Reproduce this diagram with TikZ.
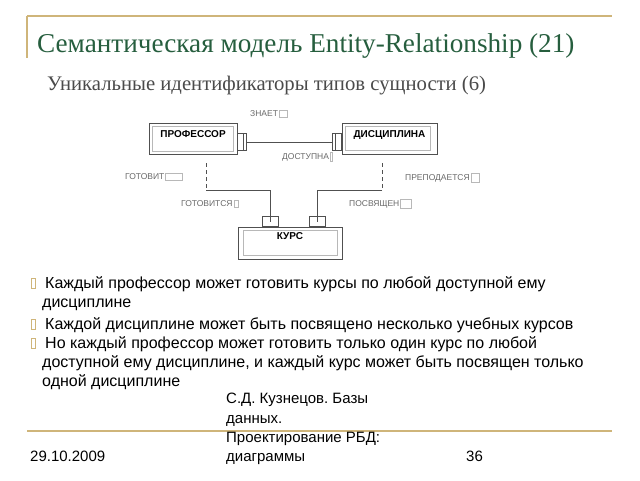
\documentclass[tikz,border=0pt]{standalone}
\usepackage{fontspec}
\setmainfont{Liberation Sans}
\newfontfamily\titlefont{Liberation Serif}
\usepackage{tikz}
\usetikzlibrary{calc}
\usetikzlibrary{positioning}

\definecolor{TitleGreen}{HTML}{265E3E}
\definecolor{LineGold}{HTML}{CFB57A}
\definecolor{SubGrey}{HTML}{4A4A4A}
\definecolor{BoxGrey}{HTML}{505050}
\definecolor{PaleGrey}{HTML}{B8B8B8}
\definecolor{TagGrey}{HTML}{6A6A6A}
\frenchspacing

\begin{document}
\begin{tikzpicture}
  [
    x = 1pt, y = -1pt,
    entity/.style = {draw=BoxGrey, rectangle, inner xsep=0pt, inner ysep=0pt,
                     text height=14pt, text depth=17pt,
                     font=\bfseries\fontsize{10}{12}\selectfont},
    inset/.style = {draw=PaleGrey, line width=0.5pt},
    port/.style = {draw=BoxGrey, rectangle, inner sep=0pt,
                   minimum width=9pt, minimum height=17pt},
    kport/.style = {port, minimum width=16pt, minimum height=10pt},
    link/.style = {draw=BoxGrey, line width=0.6pt},
    tag/.style = {text=TagGrey, font=\fontsize{8.5}{10}\selectfont,
                  inner xsep=1pt, inner ysep=0.3pt, anchor=west},
    tagframe/.style = {draw=PaleGrey, line width=0.5pt},
    bullet/.style = {draw=LineGold, rectangle, inner sep=0pt,
                     minimum width=4pt, minimum height=10pt},
    point/.style = {font=\fontsize{16}{19}\selectfont, text=black,
                    inner sep=0pt, anchor=base west},
    foot/.style = {font=\fontsize{15}{18}\selectfont, text=black,
                   inner sep=0pt, anchor=base west},
  ]
  \useasboundingbox[fill=white] (0,0) rectangle (640,480);

  % header
  \draw[LineGold, line width=1.2pt] (27,16) -- (612,16);
  \draw[LineGold, line width=1.2pt] (27,16) -- (27,58);
  \node[anchor=base west, inner sep=0pt, text=TitleGreen,
        font=\titlefont\fontsize{27.2}{31}\selectfont] (title) at (37,52)
    {Семантическая модель Entity-Relationship (21)};
  \node[anchor=base west, inner sep=0pt, text=SubGrey,
        font=\titlefont\fontsize{20.7}{24}\selectfont] (subtitle) at (47,90)
    {Уникальные идентификаторы типов сущности (6)};

  % entities
  \node[entity, minimum width=88pt] (prof) at (193,138.5) {ПРОФЕССОР};
  \node[entity, minimum width=95pt] (disc) at (389.5,138.5) {ДИСЦИПЛИНА};
  \node[entity, minimum width=104pt, minimum height=32pt,
        text height=12pt, text depth=20pt] (kurs) at (290,243) {КУРС};
  \draw[inset] ($(prof.north west)+(3,3)$) rectangle ($(prof.south east)+(-4,-3)$);
  \draw[inset] ($(disc.north west)+(3,3)$) rectangle ($(disc.south east)+(-7,-4)$);
  \draw[inset] ($(kurs.north west)+(5,3)$) rectangle ($(kurs.south east)+(-5,-4)$);

  % ports
  \node[port, anchor=west] (profPort) at ([yshift=-3.5pt]prof.east) {};
  \node[port, anchor=east] (discPort) at ([yshift=-3.5pt]disc.west) {};
  \node[kport, anchor=south] (kursPortL) at ([xshift=-20pt]kurs.north) {};
  \node[kport, anchor=south] (kursPortR) at ([xshift=27.5pt]kurs.north) {};
  \draw[link] ([xshift=-3pt]profPort.north east) -- ([xshift=-3pt]profPort.south east);
  \draw[link] ([xshift=3pt]discPort.north west) -- ([xshift=3pt]discPort.south west);

  % links
  \draw[link] (profPort.east) -- (discPort.west);
  \coordinate (profDrop) at ([xshift=13pt, yshift=-9pt]prof.south);
  \coordinate (discDrop) at ([xshift=-7.5pt, yshift=-9pt]disc.south);
  \coordinate (bendL) at ([yshift=-27pt]profDrop);
  \coordinate (bendR) at ([yshift=-27pt]discDrop);
  \draw[link, dash pattern=on 4pt off 3pt] (profDrop) -- (bendL);
  \draw[link, dash pattern=on 4pt off 3pt] (discDrop) -- (bendR);
  \draw[link] (bendL) -| (kursPortL.center);
  \draw[link] (bendR) -| (kursPortR.center);

  % role names
  \node[tag] (znaet) at (249,114) {ЗНАЕТ};
  \node[tag] (dostupna) at (281,157) {ДОСТУПНА};
  \node[tag] (gotovit) at (124,177) {ГОТОВИТ};
  \node[tag] (prepod) at (404,178) {ПРЕПОДАЕТСЯ};
  \node[tag] (gotovitsya) at (180,204) {ГОТОВИТСЯ};
  \node[tag] (posvyashchen) at (348,204) {ПОСВЯЩЕН};
  \draw[tagframe] (znaet.north east) rectangle ([xshift=8pt]znaet.south east);
  \draw[tagframe] (dostupna.north east) rectangle ([xshift=2pt]dostupna.south east);
  \draw[tagframe] (gotovit.north east) rectangle ([xshift=17pt]gotovit.south east);
  \draw[tagframe] (prepod.north east) rectangle ([xshift=8pt]prepod.south east);
  \draw[tagframe] (gotovitsya.north east) rectangle ([xshift=4pt]gotovitsya.south east);
  \draw[tagframe] (posvyashchen.north east) rectangle ([xshift=11pt]posvyashchen.south east);

  % statements
  \node[bullet] (b1) at (33,283) {};
  \node[bullet] (b2) at (33,324) {};
  \node[bullet] (b3) at (33,343) {};
  \node[point] (p1a) at (45,288) {Каждый профессор может готовить курсы по любой доступной ему};
  \node[point] (p1b) at (42,307) {дисциплине};
  \node[point] (p2) at (45,329) {Каждой дисциплине может быть посвящено несколько учебных курсов};
  \node[point] (p3a) at (45,348) {Но каждый профессор может готовить только один курс по любой};
  \node[point] (p3b) at (42,367) {доступной ему дисциплине, и каждый курс может быть посвящен только};
  \node[point] (p3c) at (42,386) {одной дисциплине};

  % footer
  \draw[LineGold, line width=1.2pt] (27,431) -- (612,431);
  \node[foot] (date) at (30,461) {29.10.2009};
  \node[foot] (src1) at (226,403) {С.Д. Кузнецов. Базы};
  \node[foot] (src2) at (226,423) {данных.};
  \node[foot] (src3) at (226,442) {Проектирование РБД:};
  \node[foot] (src4) at (226,461) {диаграммы};
  \node[foot] (page) at (466,461) {36};
\end{tikzpicture}
\end{document}
